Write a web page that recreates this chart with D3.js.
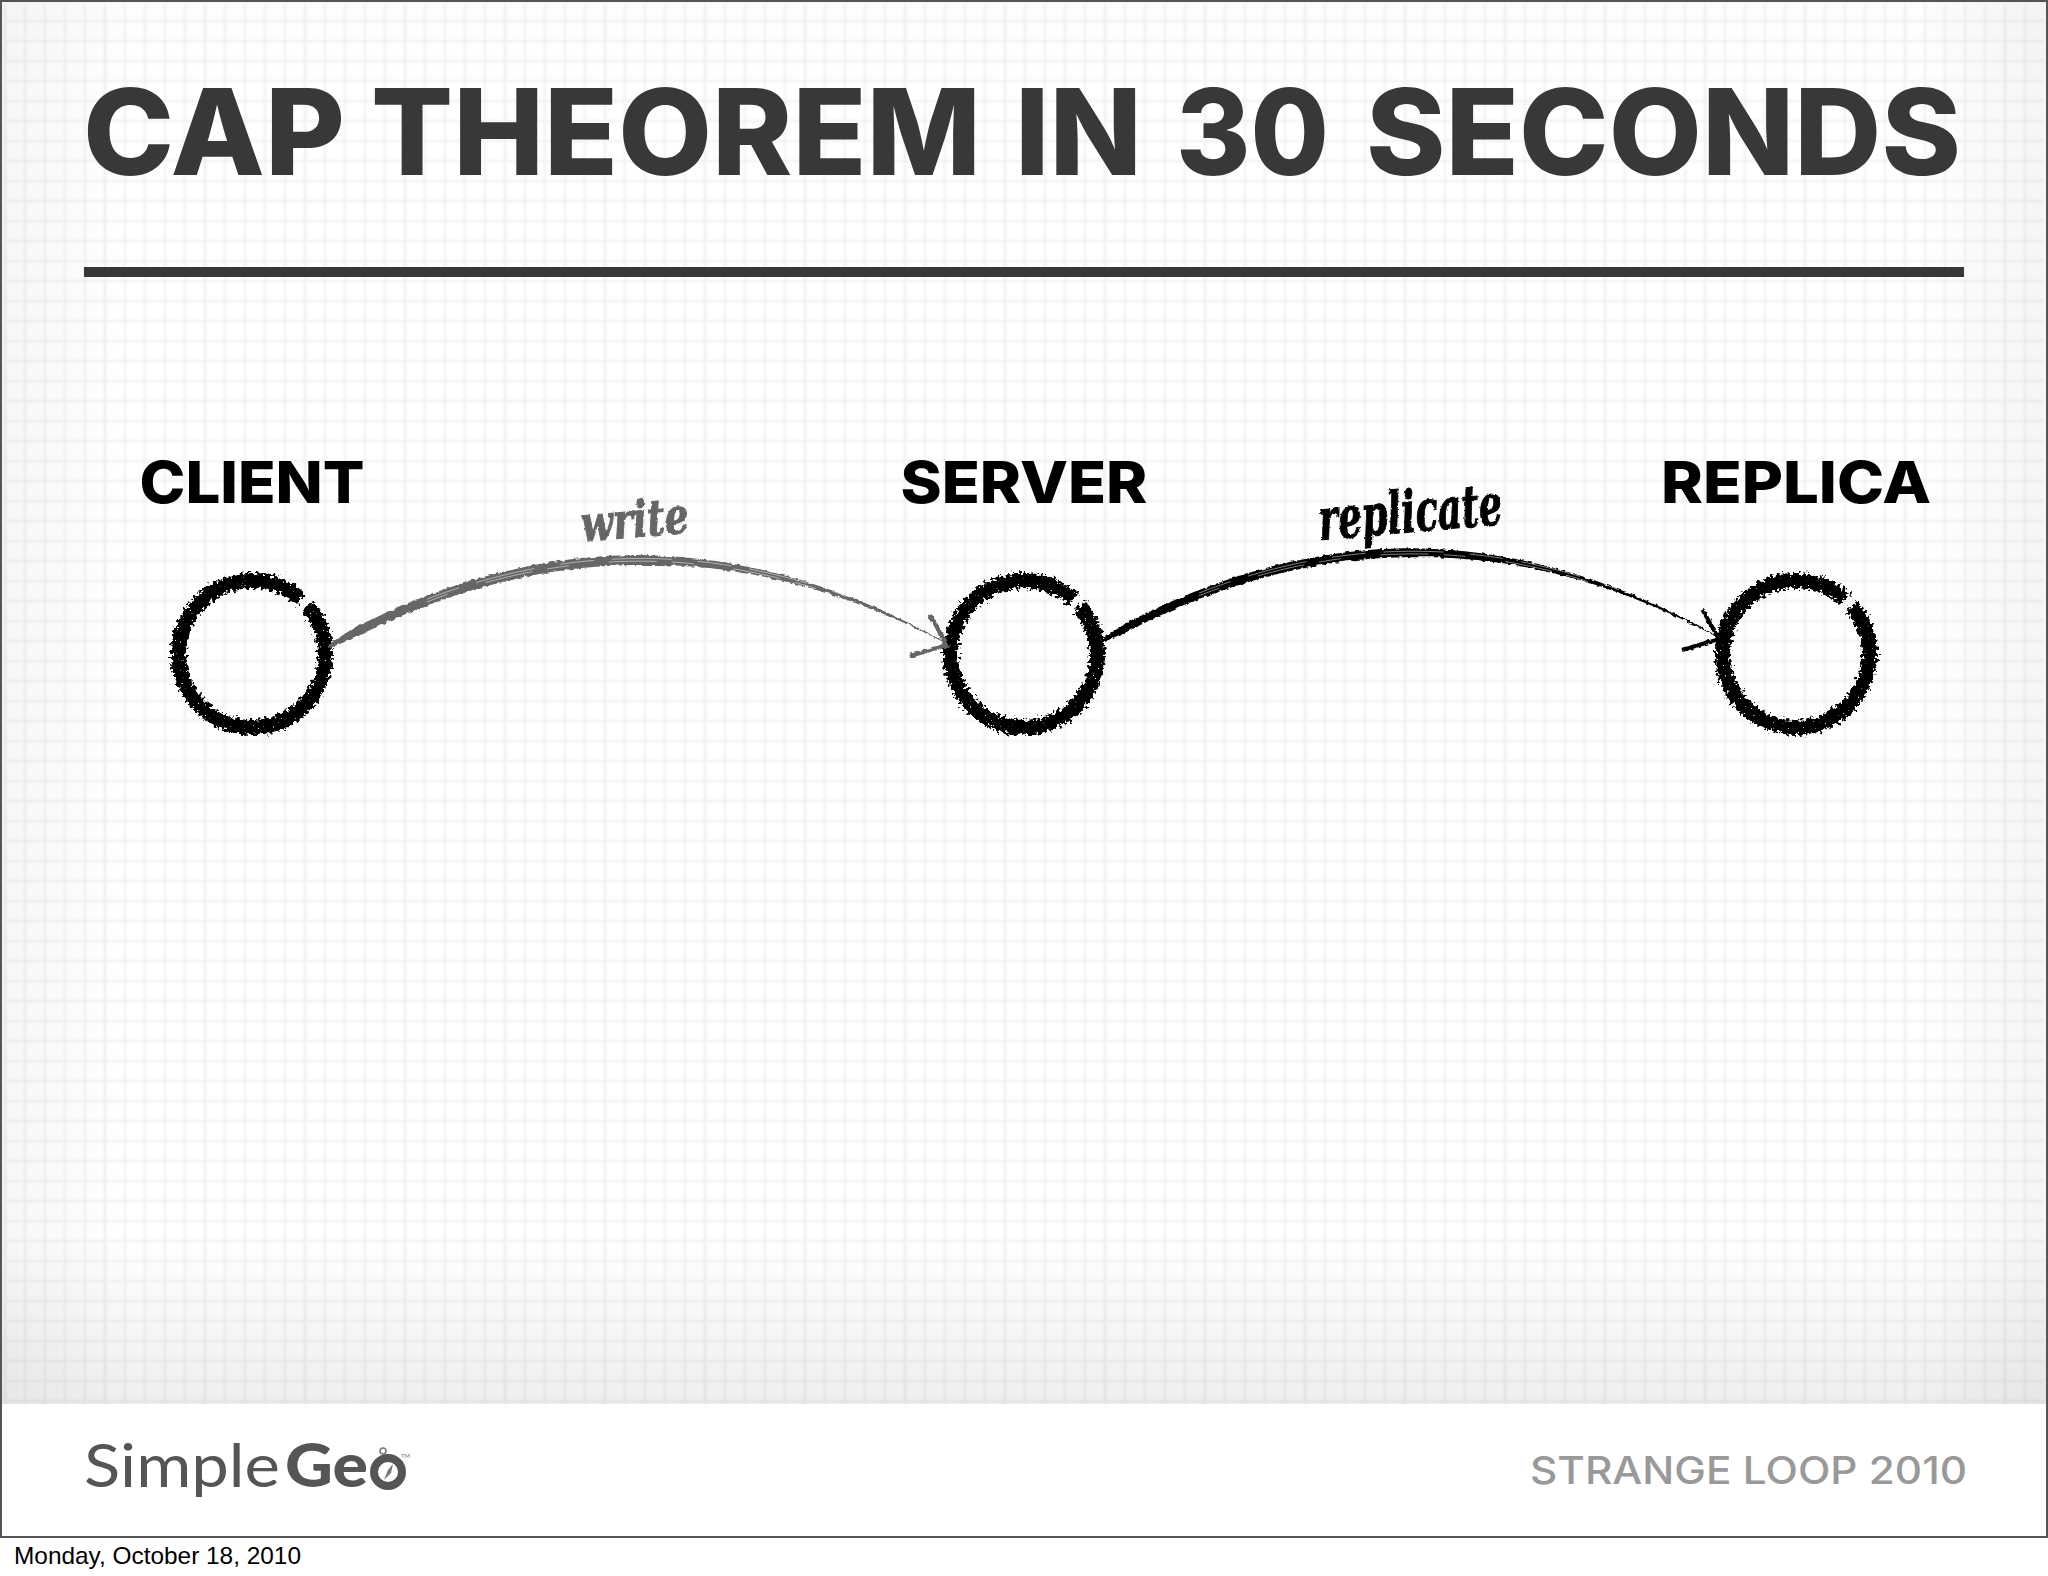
<!DOCTYPE html>
<html>
<head>
<meta charset="utf-8">
<title>CAP theorem in 30 seconds</title>
<script src="https://cdn.jsdelivr.net/npm/d3@7"></script>
<style>
  html, body { margin: 0; padding: 0; background: #fff; }
  svg { display: block; }
</style>
</head>
<body>
<script>
const titleWords = ["CAP", "THEOREM", "IN", "30", "SECONDS"];
const nodeNames = ["CLIENT", "SERVER", "REPLICA"];
const edgeLabels = ["write", "replicate"];
const edgeSources = ["CLIENT", "SERVER"];
const edgeTargets = ["SERVER", "REPLICA"];
const footerRight = "STRANGE LOOP 2010";
const footerDate = "Monday, October 18, 2010";

const W = 2048, H = 1576, bandBottom = 1404, frameBottom = 1537;
const headFont = "Inter, 'Noto Sans', sans-serif";

const svg = d3.select("body").append("svg").attr("width", W).attr("height", H);
const defs = svg.append("defs");

// rough edges for the brush look
function roughFilter(id, freq, scale) {
	let f = defs.append("filter").attr("id", id)
		.attr("filterUnits", "userSpaceOnUse")
		.attr("x", 0).attr("y", 0).attr("width", W).attr("height", H);
	f.append("feTurbulence").attr("type", "fractalNoise")
		.attr("baseFrequency", freq).attr("numOctaves", 2).attr("seed", 4).attr("result", "n");
	f.append("feDisplacementMap").attr("in", "SourceGraphic").attr("in2", "n")
		.attr("scale", scale).attr("xChannelSelector", "R").attr("yChannelSelector", "G")
		.attr("result", "d");
	return f;
}
// the rings also get a few white specks
let ringF = roughFilter("ring", 0.3, 12);
ringF.append("feTurbulence").attr("type", "fractalNoise")
	.attr("baseFrequency", 0.6).attr("numOctaves", 1).attr("seed", 9).attr("result", "s");
ringF.append("feColorMatrix").attr("in", "s").attr("type", "matrix")
	.attr("values", "0 0 0 0 0  0 0 0 0 0  0 0 0 0 0  16 0 0 0 -3.6").attr("result", "mask");
ringF.append("feComposite").attr("in", "d").attr("in2", "mask").attr("operator", "in");
roughFilter("brush", 0.22, 4);
roughFilter("script", 0.3, 2.5);
defs.append("filter").attr("id", "soft").append("feGaussianBlur").attr("stdDeviation", 0.8);

// edge shading of the paper
function shade(id, x1, y1, x2, y2, dark) {
	let g = defs.append("linearGradient").attr("id", id)
		.attr("x1", x1).attr("y1", y1).attr("x2", x2).attr("y2", y2);
	g.append("stop").attr("offset", 0).attr("stop-color", "#000").attr("stop-opacity", dark);
	g.append("stop").attr("offset", 1).attr("stop-color", "#000").attr("stop-opacity", 0);
}
shade("shL", 0, 0, 1, 0, 0.035);
shade("shR", 1, 0, 0, 0, 0.04);
shade("shT", 0, 0, 0, 1, 0.01);
shade("shB", 0, 1, 0, 0, 0.065);

svg.append("rect").attr("width", W).attr("height", H).attr("fill", "#fff");

// grid paper
const gridX = d3.scaleLinear().domain([0, 101]).range([5, 2025]);
const gridY = d3.scaleLinear().domain([0, 70]).range([1, 1401]);
const grid = svg.append("g").attr("filter", "url(#soft)");
grid.selectAll("line.v").data(d3.range(0, 102)).join("line").attr("class", "v")
	.attr("x1", gridX).attr("x2", gridX).attr("y1", 5).attr("y2", bandBottom)
	.attr("stroke", "#efefef").attr("stroke-width", d => d % 5 == 0 ? 2.4 : 1.8);
grid.selectAll("line.h").data(d3.range(0, 71)).join("line").attr("class", "h")
	.attr("y1", gridY).attr("y2", gridY).attr("x1", 5).attr("x2", W - 4)
	.attr("stroke", "#f1f1f1").attr("stroke-width", d => d % 5 == 0 ? 2.4 : 1.8);

svg.append("rect").attr("width", 130).attr("height", bandBottom).attr("fill", "url(#shL)");
svg.append("rect").attr("x", W - 130).attr("width", 130).attr("height", bandBottom).attr("fill", "url(#shR)");
svg.append("rect").attr("width", W).attr("height", 100).attr("fill", "url(#shT)");
svg.append("rect").attr("y", bandBottom - 170).attr("width", W).attr("height", 170).attr("fill", "url(#shB)");

// slide frame
svg.append("rect").attr("x", 1).attr("y", 1).attr("width", W - 2).attr("height", frameBottom - 1)
	.attr("fill", "none").attr("stroke", "#555").attr("stroke-width", 2);

// title and rule, each word fitted on its own
const wordLeft = d3.scaleOrdinal().domain(titleWords).range([83, 371, 1015, 1176, 1366]);
const wordFit = d3.scaleOrdinal().domain(titleWords).range([262, 610, 127, 153, 595]);
svg.selectAll("text.word").data(titleWords).join("text").attr("class", "word")
	.attr("x", wordLeft).attr("y", 175)
	.attr("textLength", wordFit).attr("lengthAdjust", "spacingAndGlyphs")
	.style("font", "800 119px " + headFont).attr("fill", "#383838").text(d => d);
svg.append("rect").attr("x", 84).attr("y", 267).attr("width", 1880).attr("height", 10).attr("fill", "#383838");

// nodes
const nodeX = d3.scalePoint().domain(nodeNames).range([252, 1796]);
const nodeY = 654;
const labelWidth = d3.scaleOrdinal().domain(nodeNames).range([225, 247, 270]);
const ringArc = d3.arc().innerRadius(66).outerRadius(81)
	.startAngle(49 * Math.PI / 180).endAngle((360 + 42) * Math.PI / 180);

const node = svg.selectAll("g.node").data(nodeNames).join("g").attr("class", "node");
// filter sits on a wrapper, its region is in page coordinates
node.append("g").attr("filter", "url(#ring)").append("path")
	.attr("d", ringArc())
	.attr("transform", d => `translate(${nodeX(d)},${nodeY})`)
	.attr("fill", "#000");
node.append("text")
	.attr("x", d => nodeX(d))
	.attr("y", 503).attr("text-anchor", "middle")
	.attr("textLength", labelWidth).attr("lengthAdjust", "spacingAndGlyphs")
	.style("font", "800 58px " + headFont).attr("fill", "#000").text(d => d);

// edges, tapered brush strokes
const edgeColor = d3.scaleOrdinal().domain(edgeLabels).range(["#666666", "#000000"]);
const edgeStartY = d3.scaleOrdinal().domain(edgeLabels).range([647, 642]);
const edgeEndY = d3.scaleOrdinal().domain(edgeLabels).range([643, 637]);
const edgeCtrlY = d3.scaleOrdinal().domain(edgeLabels).range([475, 466]);
const edgeThick = d3.scaleOrdinal().domain(edgeLabels).range([10, 9]);
const labelFit = d3.scaleOrdinal().domain(edgeLabels).range([108, 184]);
const labelBase = d3.scaleOrdinal().domain(edgeLabels).range([537, 532]);
const labelSize = d3.scaleOrdinal().domain(edgeLabels).range([50, 58]);
const labelMid = d3.scaleOrdinal().domain(edgeLabels).range([636, 1412]);

const edgeData = edgeLabels.map((label, i) => ({
	label: label,
	x0: nodeX(edgeSources[i]) + 76,
	x1: nodeX(edgeTargets[i]) - 78,
	y0: edgeStartY(label),
	y1: edgeEndY(label),
	cy: edgeCtrlY(label)
}));

const tSteps = d3.range(0, 1.0001, 0.01);
function bez(a, c, b, t) { return (1 - t) * (1 - t) * a + 2 * (1 - t) * t * c + t * t * b; }
const taper = d3.scaleLinear().domain([0, 0.04, 0.5, 1]).range([0.4, 1, 1, 0.12]);

const edge = svg.selectAll("g.edge").data(edgeData).join("g").attr("class", "edge");
edge.append("path")
	.attr("fill", d => edgeColor(d.label))
	.attr("filter", "url(#brush)")
	.attr("d", d => {
		let cx = (d.x0 + d.x1) / 2;
		return d3.area()
			.x(t => bez(d.x0, cx, d.x1, t))
			.y0(t => bez(d.y0, d.cy, d.y1, t) - edgeThick(d.label) * taper(t) / 2)
			.y1(t => bez(d.y0, d.cy, d.y1, t) + edgeThick(d.label) * taper(t) / 2)
			.curve(d3.curveLinear)(tSteps);
	});
// pale streaks through the stroke
[-1.5, 1.2].forEach((off, k) => {
	edge.append("path")
		.attr("fill", "none").attr("stroke", "#fff").attr("stroke-width", 0.9)
		.attr("stroke-dasharray", k == 0 ? "34 18 60 26" : "22 40 48 15").attr("opacity", 0.55)
		.attr("d", d => {
			let cx = (d.x0 + d.x1) / 2;
			return d3.line().x(t => bez(d.x0, cx, d.x1, t)).y(t => bez(d.y0, d.cy, d.y1, t) + off)(tSteps.filter(t => t > 0.15 && t < 0.85));
		});
});
// arrow head barbs
edge.append("path")
	.attr("fill", "none").attr("stroke", d => edgeColor(d.label)).attr("stroke-width", 4)
	.attr("filter", "url(#brush)")
	.attr("d", d => d3.line()([[d.x1 - 16, d.y1 - 28], [d.x1 + 1, d.y1 + 2], [d.x1 - 36, d.y1 + 13]]));

edge.append("g").attr("filter", "url(#script)").append("text")
	.attr("transform", d => `translate(${labelMid(d.label)},${labelBase(d.label)}) rotate(-5)`)
	.attr("text-anchor", "middle")
	.attr("textLength", d => labelFit(d.label)).attr("lengthAdjust", "spacingAndGlyphs")
	.style("font-family", "'DejaVu Serif Condensed', 'DejaVu Serif', serif")
	.style("font-style", "italic").style("font-weight", 700)
	.style("font-size", d => labelSize(d.label) + "px")
	.attr("stroke", d => edgeColor(d.label)).attr("stroke-width", 1)
	.attr("fill", d => edgeColor(d.label)).text(d => d.label);

// footer
const logo = svg.append("g").attr("fill", "#555");
logo.append("text").attr("x", 84).attr("y", 1487)
	.attr("textLength", 196).attr("lengthAdjust", "spacingAndGlyphs")
	.style("font", "400 60px Lato, sans-serif").text("Simple");
logo.append("text").attr("x", 285).attr("y", 1487)
	.attr("textLength", 83).attr("lengthAdjust", "spacingAndGlyphs")
	.style("font", "900 60px Lato, sans-serif").text("Ge");
logo.append("circle").attr("cx", 388).attr("cy", 1472).attr("r", 14)
	.attr("fill", "none").attr("stroke", "#555").attr("stroke-width", 8);
logo.append("circle").attr("cx", 383).attr("cy", 1451).attr("r", 3)
	.attr("fill", "none").attr("stroke", "#777").attr("stroke-width", 1.5);
logo.append("path").attr("d", d3.line()([[384, 1480], [388, 1470], [393, 1464], [391, 1473]])).attr("fill", "#777");
logo.append("text").attr("x", 401).attr("y", 1458)
	.style("font", "6px Lato, sans-serif").attr("fill", "#777").text("TM");

svg.append("text").attr("x", 1530).attr("y", 1484)
	.attr("textLength", 437).attr("lengthAdjust", "spacingAndGlyphs")
	.style("font", "500 38px Inter, sans-serif").attr("fill", "#999").text(footerRight);

svg.append("text").attr("x", 14).attr("y", 1564)
	.attr("textLength", 287).attr("lengthAdjust", "spacingAndGlyphs")
	.style("font", "24px 'Liberation Sans', sans-serif").attr("fill", "#000").text(footerDate);
</script>
</body>
</html>
